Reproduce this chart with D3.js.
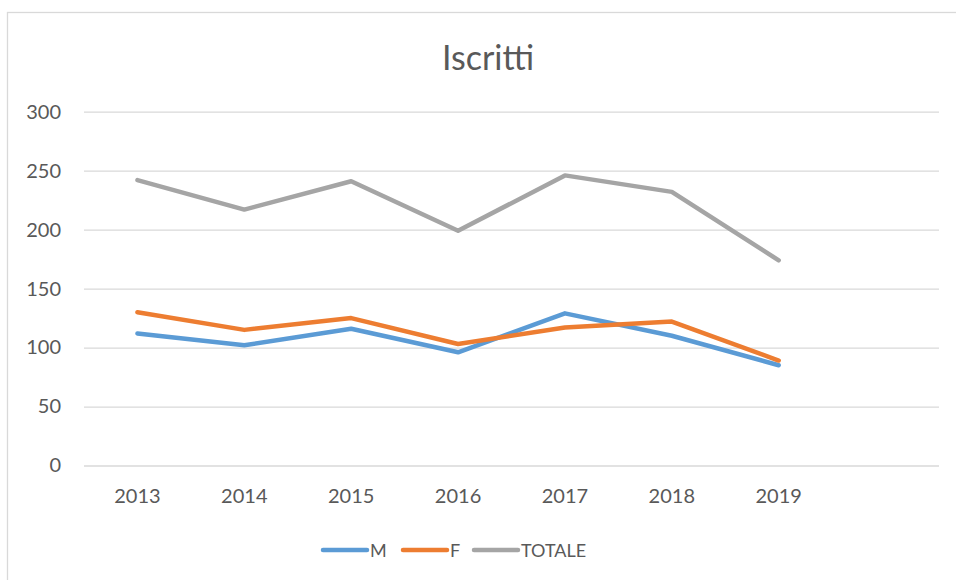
<!DOCTYPE html>
<html>
<head>
<meta charset="utf-8">
<script src="https://cdn.jsdelivr.net/npm/d3@7"></script>
<style>
  body { margin: 0; background: #fff; }
  text { font-family: Lato, "Noto Sans", sans-serif; fill: #595959; }
</style>
</head>
<body>
<div class="main"></div>
<script>
////Data
const years = ['2013', '2014', '2015', '2016', '2017', '2018', '2019'];
const maschi = [112, 102, 116, 96, 129, 110, 85];
const femmine = [130, 115, 125, 103, 117, 122, 89];
const totale = [242, 217, 241, 199, 246, 232, 174];
const yTicks = [0, 50, 100, 150, 200, 250, 300];

const series = [
  { name: 'M', values: maschi, color: '#5B9BD5' },
  { name: 'F', values: femmine, color: '#ED7D31' },
  { name: 'TOTALE', values: totale, color: '#A5A5A5' }
];

////Global Variables
const width = 956;
const height = 580;
const plotLeft = 84, plotRight = 939, plotTop = 111.7, plotBottom = 465.5;

const svg = d3.select('.main').append('svg')
  .attr('width', width)
  .attr('height', height);

// chart frame
svg.append('rect')
  .attr('x', 7.5).attr('y', 12.5)
  .attr('width', 1000).attr('height', 1000)
  .attr('fill', 'none')
  .attr('stroke', '#D9D9D9')
  .attr('stroke-width', 1.3);

svg.append('text')
  .attr('x', 488).attr('y', 70)
  .attr('text-anchor', 'middle')
  .style('font-size', '34px')
  .text('Iscritti');

////Scales (one empty slot after 2019, like the original)
const xScale = d3.scaleBand()
  .domain(years.concat(['']))
  .range([plotLeft, plotRight]);
const yScale = d3.scaleLinear()
  .domain([0, 300])
  .range([plotBottom, plotTop]);

////Axes
const yAxis = d3.axisLeft(yScale)
  .tickValues(yTicks)
  .tickSize(-(plotRight - plotLeft))
  .tickPadding(23);

svg.append('g')
  .attr('id', 'y-axis')
  .attr('transform', `translate(${plotLeft}, 0)`)
  .call(yAxis)
  .call(g => g.select('.domain').remove())
  .call(g => g.selectAll('line').attr('stroke', '#D9D9D9').attr('stroke-width', 1.3))
  .call(g => g.selectAll('text').style('font-size', '20px').attr('fill', '#595959'));

const xAxis = d3.axisBottom(xScale)
  .tickValues(years)
  .tickSize(0)
  .tickPadding(23);

svg.append('g')
  .attr('id', 'x-axis')
  .attr('transform', `translate(0, ${plotBottom})`)
  .call(xAxis)
  .call(g => g.select('.domain').remove())
  .call(g => g.selectAll('text').style('font-size', '20px').attr('fill', '#595959'));

////Lines
const line = d3.line()
  .x((d, i) => xScale(years[i]) + xScale.bandwidth() / 2)
  .y(d => yScale(d));

svg.selectAll('path.serie')
  .data(series)
  .enter()
  .append('path')
  .attr('class', 'serie')
  .attr('d', d => line(d.values))
  .attr('fill', 'none')
  .attr('stroke', d => d.color)
  .attr('stroke-width', 4.5)
  .attr('stroke-linecap', 'round')
  .attr('stroke-linejoin', 'round');

////Legend
const legendX = [323, 403, 474];
const legend = svg.selectAll('g.legend')
  .data(series)
  .enter()
  .append('g')
  .attr('class', 'legend')
  .attr('transform', (d, i) => `translate(${legendX[i]}, 550)`);

legend.append('line')
  .attr('x1', 0).attr('x2', 44)
  .attr('stroke', d => d.color)
  .attr('stroke-width', 4.5)
  .attr('stroke-linecap', 'round');

legend.append('text')
  .attr('x', 47).attr('y', 7)
  .style('font-size', '18px')
  .text(d => d.name);
</script>
</body>
</html>
